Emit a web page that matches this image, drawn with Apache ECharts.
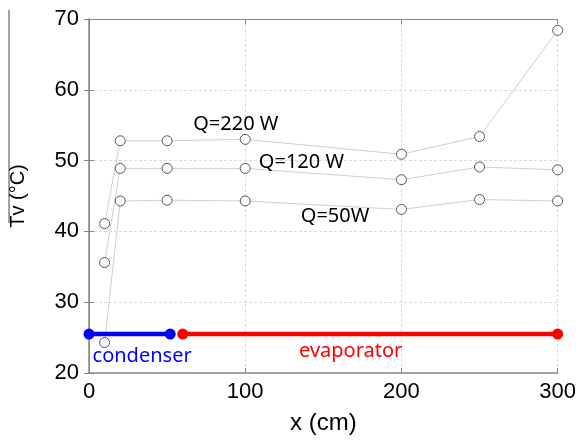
<!DOCTYPE html>
<html>
<head>
<meta charset="utf-8">
<script src="https://cdn.jsdelivr.net/npm/echarts@6/dist/echarts.min.js"></script>
<style>
  html, body { margin: 0; padding: 0; background: #fff; }
  #main { width: 579px; height: 440px; }
</style>
</head>
<body>
<div id="main"></div>
<script>
  // positions along the pipe (cm)
  var xPos = [10, 20, 50, 100, 200, 250, 300]
  // vapour temperature (°C) for each heat load
  var q220 = [41.1, 52.8, 52.8, 53.0, 50.9, 53.4, 68.4]
  var q120 = [35.6, 48.9, 48.9, 48.9, 47.3, 49.1, 48.7]
  var q50 = [24.3, 44.3, 44.4, 44.3, 43.1, 44.5, 44.3]

  // condenser / evaporator sections
  var sectionLevel = 25.5
  var condenserX = [0, 52]
  var evaporatorX = [60, 300]

  // annotation texts and their data positions
  var noteText = ['Q=220 W', 'Q=120 W', 'Q=50W', 'condenser', 'evaporator']
  var noteX = [94, 136, 157.5, 34, 167.5]
  var noteY = [55.1, 49.7, 42.1, 22.3, 23.0]
  var noteColor = ['#000', '#000', '#000', '#0000ff', '#ff0000']

  var yTicks = [20, 30, 40, 50, 60, 70]
  var xTicks = [0, 100, 200, 300]

  function pairs (xs, ys) {
    return xs.map(function (x, i) { return [x, ys[i]] })
  }

  var myChart = echarts.init(document.getElementById('main'))

  var dataSeries = [q220, q120, q50].map(function (vals) {
    return {
      type: 'line',
      data: pairs(xPos, vals),
      symbol: 'circle',
      symbolSize: 10,
      lineStyle: { color: '#cfcfcf', width: 1 },
      itemStyle: { color: '#fff', borderColor: '#444', borderWidth: 0.9 },
      z: 3
    }
  })

  var sectionSeries = [
    { x: condenserX, color: '#0000ff' },
    { x: evaporatorX, color: '#ff0000' }
  ].map(function (s) {
    return {
      type: 'line',
      data: s.x.map(function (x) { return [x, sectionLevel] }),
      symbol: 'circle',
      symbolSize: 11,
      lineStyle: { color: s.color, width: 4.5 },
      itemStyle: { color: s.color },
      z: 4
    }
  })

  var noteSeries = {
    type: 'scatter',
    symbolSize: 0,
    itemStyle: { opacity: 1 },
    data: noteText.map(function (t, i) {
      return {
        value: [noteX[i], noteY[i]],
        name: t,
        label: { color: noteColor[i] }
      }
    }),
    label: {
      show: true,
      position: 'inside',
      formatter: '{b}',
      fontFamily: 'Noto Sans',
      fontSize: 20
    },
    silent: true,
    z: 5
  }

  var labelFont = { fontFamily: 'Liberation Sans', fontSize: 22, color: '#000' }

  var option = {
    animation: false,
    backgroundColor: '#fff',
    grid: { left: 88, right: 20, top: 19, bottom: 66 },
    xAxis: [
      {
        type: 'value',
        min: xTicks[0],
        max: xTicks[xTicks.length - 1],
        interval: 100,
        name: 'x (cm)',
        nameLocation: 'middle',
        nameGap: 38,
        nameTextStyle: { fontFamily: 'Liberation Sans', fontSize: 24, color: '#000' },
        axisLine: { lineStyle: { color: '#888', width: 1.5 } },
        axisTick: { inside: true, length: 5, lineStyle: { color: '#888' } },
        axisLabel: Object.assign({ margin: 8 }, labelFont),
        splitLine: { show: true, lineStyle: { color: '#dcdcdc', type: [3, 2] } }
      },
      {
        type: 'value',
        position: 'top',
        min: xTicks[0],
        max: xTicks[xTicks.length - 1],
        interval: 100,
        axisLine: { show: true, lineStyle: { color: '#888', width: 1 } },
        axisTick: { show: true, inside: true, length: 5, lineStyle: { color: '#888' } },
        axisLabel: { show: false },
        splitLine: { show: false }
      }
    ],
    yAxis: [
      {
        type: 'value',
        min: yTicks[0],
        max: yTicks[yTicks.length - 1],
        interval: 10,
        name: 'Tv (°C)',
        nameLocation: 'middle',
        nameGap: 61,
        nameTextStyle: { fontFamily: 'Liberation Sans', fontSize: 20, color: '#000' },
        axisLine: { show: true, lineStyle: { color: '#888', width: 1.5 } },
        axisTick: { show: true, inside: true, length: 5, lineStyle: { color: '#888' } },
        axisLabel: Object.assign({ margin: 10 }, labelFont),
        splitLine: { show: true, lineStyle: { color: '#dcdcdc', type: [3, 2] } }
      },
      {
        type: 'value',
        position: 'right',
        min: yTicks[0],
        max: yTicks[yTicks.length - 1],
        interval: 10,
        axisLine: { show: true, lineStyle: { color: '#888', width: 1 } },
        axisTick: { show: true, inside: true, length: 5, lineStyle: { color: '#888' } },
        axisLabel: { show: false },
        splitLine: { show: false }
      }
    ],
    graphic: [
      {
        type: 'line',
        shape: { x1: 9, y1: 10, x2: 9, y2: 223 },
        style: { stroke: '#444', lineWidth: 1 }
      }
    ],
    series: dataSeries.concat(sectionSeries, [noteSeries])
  }

  myChart.setOption(option)
</script>
</body>
</html>
